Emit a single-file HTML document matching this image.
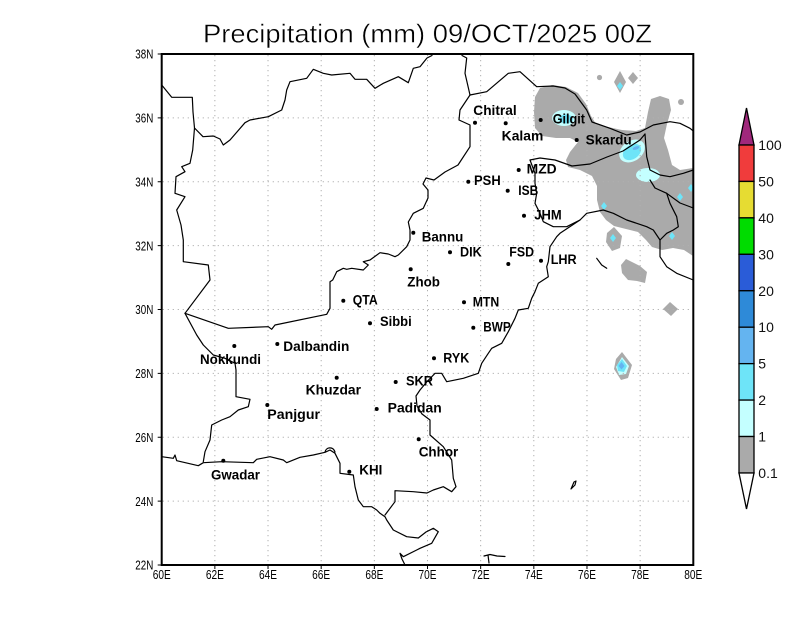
<!DOCTYPE html>
<html><head><meta charset="utf-8"><style>
html,body{margin:0;padding:0;background:#fff;}
svg{display:block;}
text{font-family:"Liberation Sans",sans-serif;}
</style></head><body>
<svg width="800" height="618" viewBox="0 0 800 618" xmlns="http://www.w3.org/2000/svg">
<rect width="800" height="618" fill="#fff"/>

<text x="203" y="42.3" font-size="26" textLength="449" lengthAdjust="spacingAndGlyphs" fill="#000" stroke="#fff" stroke-width="0.4">Precipitation (mm) 09/OCT/2025 00Z</text>

<!-- precipitation shading -->
<g fill="#aaaaaa" stroke="none">
<path d="M535,97 L540,88 L552,85 L566,87 L578,93 L586,104 L591,116 L596,124 L608,127 L622,130 L636,131 L645,128 L648,112 L651,99 L660,96 L669,99 L671,110 L667,124 L664,138 L668,150 L672,165 L680,170 L693,168 L693,256 L684,250 L673,248 L662,250 L652,247 L646,240 L638,232 L626,229 L614,226 L606,220 L600,212 L597,200 L597,186 L592,176 L580,170 L568,167 L566,160 L570,152 L578,142 L570,138 L556,138 L542,136 L535,128 L534,112 Z"/>
<circle cx="599.5" cy="77.5" r="2.6"/>
<polygon points="620,71 626,82 620,93 614,82"/>
<polygon points="633,72 638,78 633,84 628,78"/>
<circle cx="681" cy="102" r="3"/>
<polygon points="614,227 622,236 620,248 612,251 606,242 607,233"/>
<polygon points="626,259 632,262 640,266 647,272 645,283 637,281 628,280 622,273 621,265"/>
<polygon points="670,302 678,309 671,316 663,309"/>
<polygon points="622,352 632,365 628,378 621,380 614,369 616,359"/>
</g>
<g fill="#c4ffff">
<ellipse cx="564" cy="118" rx="12" ry="8"/>
<ellipse cx="632" cy="151" rx="14" ry="10" transform="rotate(-35 632 151)"/>
<ellipse cx="648" cy="175" rx="12" ry="7"/>
<polygon points="622,357 629,366 626,374 619,375 616,367"/>
</g>
<g fill="#6ee4f8">
<ellipse cx="566" cy="119" rx="7" ry="4.5"/>
<ellipse cx="632" cy="152" rx="10" ry="7" transform="rotate(-35 632 152)"/>
<polygon points="620,82 623,86 620,90 617,86"/>
<polygon points="680,193 683,197 680,201 677,197"/>
<polygon points="691,184 694,188 691,192 688,188"/>
<polygon points="672,232 675,236 672,240 669,236"/>
<polygon points="613,234 616,238 613,242 610,238"/>
<polygon points="604,202 607,206 604,210 601,206"/>
<polygon points="622,359 627,366 624,372 618,371 617,365"/>
</g>
<g fill="#64b4f0">
<ellipse cx="636" cy="148" rx="3.5" ry="1.6" transform="rotate(-20 636 148)"/>
<polygon points="621.5,362 624.5,366 621.5,369.5 618.5,366"/>
</g>

<!-- grid -->
<g stroke="#b0b0b0" stroke-width="1" stroke-dasharray="1.2 3.8" fill="none">
<path d="M214.86,55V564 M268.02,55V564 M321.18,55V564 M374.34,55V564 M427.5,55V564 M480.66,55V564 M533.82,55V564 M586.98,55V564 M640.14,55V564"/>
<path d="M162.7,501.1H692.3 M162.7,437.25H692.3 M162.7,373.4H692.3 M162.7,309.5H692.3 M162.7,245.6H692.3 M162.7,181.75H692.3 M162.7,117.9H692.3"/>
</g>

<!-- borders -->
<g stroke="#000" stroke-width="1.2" fill="none" stroke-linejoin="round" stroke-linecap="round">
<path d="M161.7,85 L171.7,97.3 L192.3,97.3 L193,112 L194.5,128 L203,136.7 L213.3,136 L220,139 L223.3,145 L230,140 L245,122.7 L250,120 L268.3,116.7 L281.7,110 L285,100 L286.7,90 L290,81.7 L306.7,78.3 L313.3,69.3 L323.3,73.3 L331.7,75 L350,73.3 L355,79.3 L366.7,79.3 L375,88.3 L383.3,83.3 L398.3,76.7 L408.3,82.7 L413.3,68.3 L420,66.7 L427,58 L432,55.5"/>
<path d="M462,55.5 L466.7,58 L465,73.3 L470,95"/>
<path d="M470,95 L460,110 L459,120 L470,125 L470,146.7 L458,165 L445,172 L434,180 L426,178 L423,184 L428,190 L428,198 L423.3,208.3 L413.3,213.3 L408.3,222 L410,230 L410,240 L406.7,246.7 L398.3,255 L395,256.7 L388.3,254 L380,252.7 L370,260 L363.3,261.7 L368.3,265 L363.3,270 L351.7,268.3 L346.7,269.3 L343.3,268.3 L336.7,271.7 L332.7,280 L330,281.7 L330,308.3 L326.7,314.3 L275,325 L271.7,329.3 L268.3,326.7 L228.3,328.3 L185,313.3"/>
<path d="M194.5,128 L192.7,150 L190,163.3 L181.7,166.7 L185,171.7 L176,176.7 L175,193.3 L185,196.7 L176.7,210 L181,225 L183.3,240 L183.3,261.7 L208.3,265 L210,280 L185,313.3"/>
<path d="M185,313.3 L196.7,335 L203.3,345 L213.3,355 L225,358.3 L235,363.3 L236,370 L236,396.7 L250,399.3 L248.3,406.7 L238.3,410 L230,416.7 L221.7,420 L211.7,425 L210,440 L205,451.7 L203.3,461.7"/>
<path d="M161.7,456.7 L173.3,458.3 L175,455 L176.7,460.7 L198.3,465.7 L203.3,462.7 L221.7,461.7 L253.3,462.7 L256.7,459.3 L270,456.7 L283.3,460 L286.7,462.7 L300,457.3 L313.3,455 L325,452.3 L330,450 L335,453.3 L340,463.3 L340,473.3 L353.3,475 L355,486.7 L358.3,500 L363.3,506.7 L371.7,506.7 L376.7,510 L380,513.3 L385,516.7 L386.7,520 L393.3,530 L406.7,536.7 L418.3,538 L426,532 L433.3,528.3 L438.3,531.7 L431.7,543.3 L420,548.3 L416.7,550 L403.3,556.7 L400,553.3 L402,559 L405,565"/>
<path d="M325,452 C326,447 333,446 335,452"/>
<path d="M385,515 L395,501.7 L395,490.7 L413.3,491.7 L427,493 L433.3,490 L443.3,486.7 L451.7,491.7 L456,486.7 L453.3,478.3 L451.7,460 L443.3,446.7 L430,435 L430,420 L422,414 L417,406 L416,396 L420,390 L426.7,382 L435,373.3 L441.7,373.3 L446.7,381.7 L463.3,378.3 L478.3,373.3 L481.7,363.3 L488.3,353.3 L491.7,348.3 L501.7,343.3 L508.3,331.7 L515,318.3 L518.3,310 L528.3,308.3 L531.7,298.3 L535,291.7 L538.3,283.3 L548.3,276.7 L546.7,266.7 L548.3,261.7 L550,246.7 L556.7,236.7 L560,233.3 L580,220 L586.7,213.3 L603.3,210 L613.3,213.3 L626.7,220 L636.7,223.3 L646.7,226.7 L653.3,230 L660,240 L660,256.7 L666.7,266.7 L676.7,273.3 L693.3,280"/>
<path d="M470,95 L486.7,91.7 L508.3,73.3 L520,71.7 L536.7,86.7 L553.3,86 L565,88 L575,94 L586.7,110 L592,122 L610,128.3 L626.7,135 L640,132 L653.3,125 L670,121.7 L680,123.3 L690,128.3 L693.3,131"/>
<path d="M530,160 L535,173.3 L535,183.3 L536.7,193.3 L535,203.3 L540,213.3 L543.3,221.7 L553.3,226.7 L566.7,226.7 L580,220"/>
<path d="M530,160 L540,158 L555,160 L572,166 L590,164 L607,157 L623,151 L640,140 L645,134"/>
<path d="M645,134 L646.7,156.7 L650,170 L660,175 L670,176.7 L683.3,173.3 L693.3,170"/>
<path d="M650,180 L655,188 L666.7,193.3 L670,203.3 L676.7,216.7 L678.3,226.7 L673.3,230 L666.7,233.3 L660,240"/>
<path d="M666.7,193.3 L680,203 L693.3,208"/>
<path d="M596.7,258.3 L601.7,265 L606.7,268.3"/>
<path d="M484,556 L490,554.5 L497,556 L505,556.5 M488,555 L489,563"/>
<path d="M571,489 L574,482 L576,481 L575,485 Z"/>
</g>

<!-- frame -->
<rect x="161.7" y="54" width="531.6" height="511" fill="none" stroke="#000" stroke-width="2"/>
<g stroke="#000" stroke-width="1">
<path d="M157.7,54H161.7 M157.7,117.9H161.7 M157.7,181.75H161.7 M157.7,245.6H161.7 M157.7,309.5H161.7 M157.7,373.4H161.7 M157.7,437.25H161.7 M157.7,501.1H161.7 M157.7,565H161.7"/>
<path d="M214.86,565V569 M268.02,565V569 M321.18,565V569 M374.34,565V569 M427.5,565V569 M480.66,565V569 M533.82,565V569 M586.98,565V569 M640.14,565V569"/>
</g>

<!-- axis labels -->
<g font-size="13" fill="#000" text-anchor="end">
<text x="153.3" y="58.7" textLength="18" lengthAdjust="spacingAndGlyphs">38N</text>
<text x="153.3" y="122.6" textLength="18" lengthAdjust="spacingAndGlyphs">36N</text>
<text x="153.3" y="186.4" textLength="18" lengthAdjust="spacingAndGlyphs">34N</text>
<text x="153.3" y="250.3" textLength="18" lengthAdjust="spacingAndGlyphs">32N</text>
<text x="153.3" y="314.2" textLength="18" lengthAdjust="spacingAndGlyphs">30N</text>
<text x="153.3" y="378.1" textLength="18" lengthAdjust="spacingAndGlyphs">28N</text>
<text x="153.3" y="441.9" textLength="18" lengthAdjust="spacingAndGlyphs">26N</text>
<text x="153.3" y="505.8" textLength="18" lengthAdjust="spacingAndGlyphs">24N</text>
<text x="153.3" y="569.7" textLength="18" lengthAdjust="spacingAndGlyphs">22N</text>
</g>
<g font-size="13" fill="#000" text-anchor="middle">
<text x="161.7" y="579" textLength="18" lengthAdjust="spacingAndGlyphs">60E</text>
<text x="214.86" y="579" textLength="18" lengthAdjust="spacingAndGlyphs">62E</text>
<text x="268.02" y="579" textLength="18" lengthAdjust="spacingAndGlyphs">64E</text>
<text x="321.18" y="579" textLength="18" lengthAdjust="spacingAndGlyphs">66E</text>
<text x="374.34" y="579" textLength="18" lengthAdjust="spacingAndGlyphs">68E</text>
<text x="427.5" y="579" textLength="18" lengthAdjust="spacingAndGlyphs">70E</text>
<text x="480.66" y="579" textLength="18" lengthAdjust="spacingAndGlyphs">72E</text>
<text x="533.82" y="579" textLength="18" lengthAdjust="spacingAndGlyphs">74E</text>
<text x="586.98" y="579" textLength="18" lengthAdjust="spacingAndGlyphs">76E</text>
<text x="640.14" y="579" textLength="18" lengthAdjust="spacingAndGlyphs">78E</text>
<text x="693.3" y="579" textLength="18" lengthAdjust="spacingAndGlyphs">80E</text>
</g>

<!-- stations -->
<g fill="#000">
<circle cx="475" cy="122.7" r="2"/><circle cx="505.7" cy="123.3" r="2"/><circle cx="540.7" cy="120" r="2"/>
<circle cx="576.7" cy="140" r="2"/><circle cx="518.7" cy="170" r="2"/><circle cx="468.3" cy="181.7" r="2"/>
<circle cx="507.7" cy="190.7" r="2"/><circle cx="524" cy="215.7" r="2"/><circle cx="413.3" cy="232.7" r="2"/>
<circle cx="450" cy="252.3" r="2"/><circle cx="508.3" cy="264" r="2"/><circle cx="541" cy="260.7" r="2"/>
<circle cx="410.7" cy="269.3" r="2"/><circle cx="464" cy="302.3" r="2"/><circle cx="473.3" cy="327.7" r="2"/>
<circle cx="434" cy="358.3" r="2"/><circle cx="343.3" cy="300.7" r="2"/><circle cx="370" cy="323.3" r="2"/>
<circle cx="277.3" cy="344" r="2"/><circle cx="234.3" cy="346" r="2"/><circle cx="336.7" cy="377.7" r="2"/>
<circle cx="395.7" cy="382" r="2"/><circle cx="267.3" cy="405" r="2"/><circle cx="376.7" cy="409" r="2"/>
<circle cx="418.7" cy="439.3" r="2"/><circle cx="223.3" cy="460.7" r="2"/><circle cx="349.3" cy="471.7" r="2"/>
</g>
<g font-size="13.5" font-weight="bold" fill="#000">
<text x="473.3" y="115" textLength="43.4" lengthAdjust="spacingAndGlyphs">Chitral</text>
<text x="501.7" y="140.7" textLength="41.6" lengthAdjust="spacingAndGlyphs">Kalam</text>
<text x="552.7" y="123.3" textLength="32.3" lengthAdjust="spacingAndGlyphs">Gilgit</text>
<text x="585.7" y="144.3" textLength="46" lengthAdjust="spacingAndGlyphs">Skardu</text>
<text x="526.7" y="173.3" textLength="30" lengthAdjust="spacingAndGlyphs">MZD</text>
<text x="474" y="185" textLength="26.7" lengthAdjust="spacingAndGlyphs">PSH</text>
<text x="518.3" y="195" textLength="20" lengthAdjust="spacingAndGlyphs">ISB</text>
<text x="534.3" y="219.3" textLength="27.4" lengthAdjust="spacingAndGlyphs">JHM</text>
<text x="421.7" y="241.7" textLength="41.6" lengthAdjust="spacingAndGlyphs">Bannu</text>
<text x="460" y="256.7" textLength="21.7" lengthAdjust="spacingAndGlyphs">DIK</text>
<text x="509.3" y="256.7" textLength="24.7" lengthAdjust="spacingAndGlyphs">FSD</text>
<text x="550.7" y="264" textLength="26" lengthAdjust="spacingAndGlyphs">LHR</text>
<text x="407.3" y="286.7" textLength="32.7" lengthAdjust="spacingAndGlyphs">Zhob</text>
<text x="472.7" y="306.7" textLength="26.6" lengthAdjust="spacingAndGlyphs">MTN</text>
<text x="483.3" y="331.7" textLength="27.4" lengthAdjust="spacingAndGlyphs">BWP</text>
<text x="443.3" y="362.7" textLength="26" lengthAdjust="spacingAndGlyphs">RYK</text>
<text x="352.7" y="304.3" textLength="25" lengthAdjust="spacingAndGlyphs">QTA</text>
<text x="380" y="326" textLength="31.7" lengthAdjust="spacingAndGlyphs">Sibbi</text>
<text x="283.3" y="351" textLength="66" lengthAdjust="spacingAndGlyphs">Dalbandin</text>
<text x="200" y="364" textLength="61" lengthAdjust="spacingAndGlyphs">Nokkundi</text>
<text x="305.7" y="394.3" textLength="55.3" lengthAdjust="spacingAndGlyphs">Khuzdar</text>
<text x="406" y="385.7" textLength="27" lengthAdjust="spacingAndGlyphs">SKR</text>
<text x="267.3" y="419" textLength="52.7" lengthAdjust="spacingAndGlyphs">Panjgur</text>
<text x="387.7" y="412.7" textLength="54" lengthAdjust="spacingAndGlyphs">Padidan</text>
<text x="418.7" y="456.7" textLength="39.6" lengthAdjust="spacingAndGlyphs">Chhor</text>
<text x="211" y="479.3" textLength="49" lengthAdjust="spacingAndGlyphs">Gwadar</text>
<text x="359.3" y="474.3" textLength="23" lengthAdjust="spacingAndGlyphs">KHI</text>
</g>

<!-- colorbar -->
<g stroke="#000" stroke-width="1.3">
<polygon points="746.5,108 754,145 739,145" fill="#a0287c"/>
<rect x="739" y="145" width="15" height="36.44" fill="#f03c3c"/>
<rect x="739" y="181.44" width="15" height="36.44" fill="#e6dc32"/>
<rect x="739" y="217.88" width="15" height="36.44" fill="#00dc00"/>
<rect x="739" y="254.32" width="15" height="36.44" fill="#2a5cd8"/>
<rect x="739" y="290.76" width="15" height="36.44" fill="#2e8ad8"/>
<rect x="739" y="327.2" width="15" height="36.44" fill="#64b4f0"/>
<rect x="739" y="363.64" width="15" height="36.44" fill="#6ee4f8"/>
<rect x="739" y="400.08" width="15" height="36.44" fill="#c4ffff"/>
<rect x="739" y="436.52" width="15" height="36.48" fill="#aaaaaa"/>
<polygon points="739,473 754,473 746.5,509" fill="#fff"/>
</g>
<g font-size="14" fill="#111">
<text x="758.3" y="150">100</text>
<text x="758.3" y="186.4">50</text>
<text x="758.3" y="222.9">40</text>
<text x="758.3" y="259.3">30</text>
<text x="758.3" y="295.8">20</text>
<text x="758.3" y="332.2">10</text>
<text x="758.3" y="368.6">5</text>
<text x="758.3" y="405.1">2</text>
<text x="758.3" y="441.5">1</text>
<text x="758.3" y="478">0.1</text>
</g>
</svg>
</body></html>
